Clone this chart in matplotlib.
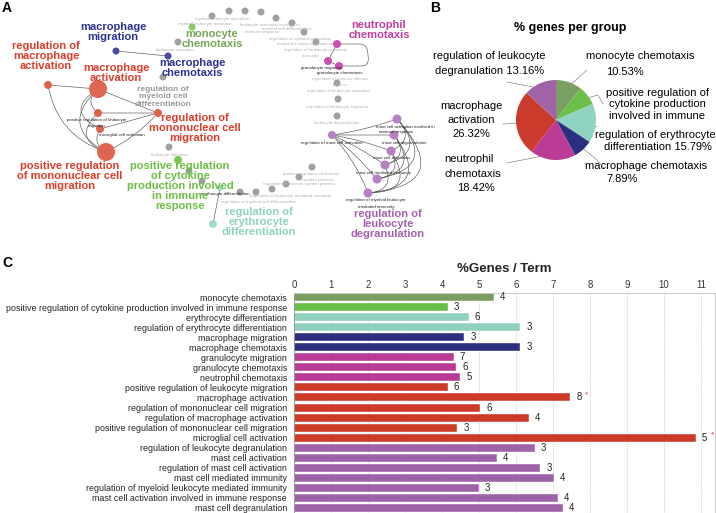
import matplotlib
matplotlib.use("Agg")
import matplotlib.pyplot as plt
from matplotlib import font_manager
from matplotlib.patches import FancyArrowPatch
import numpy as np

# ---------------- data ----------------
# panel B: share of genes per group
pie_groups = ["monocyte chemotaxis", "positive regulation of cytokine production involved in immune",
              "regulation of erythrocyte differentiation", "macrophage chemotaxis",
              "neutrophil chemotaxis", "macrophage activation", "regulation of leukocyte degranulation"]
pie_pct = [10.53, 7.89, 15.79, 7.89, 18.42, 26.32, 13.16]
pie_colors = ["#7b9e63", "#6cc04a", "#8fd4c3", "#2b2f80", "#bb3c97", "#cb3b2b", "#a063a8"]

# panel C: %genes per term
terms = ["monocyte chemotaxis",
         "positive regulation of cytokine production involved in immune response",
         "erythrocyte differentiation", "regulation of erythrocyte differentiation",
         "macrophage migration", "macrophage chemotaxis",
         "granulocyte migration", "granulocyte chemotaxis", "neutrophil chemotaxis",
         "positive regulation of leukocyte migration", "macrophage activation",
         "regulation of mononuclear cell migration", "regulation of macrophage activation",
         "positive regulation of mononuclear cell migration", "microglial cell activation",
         "regulation of leukocyte degranulation", "mast cell activation",
         "regulation of mast cell activation", "mast cell mediated immunity",
         "regulation of myeloid leukocyte mediated immunity",
         "mast cell activation involved in immune response", "mast cell degranulation"]
pct_genes = [5.40, 4.16, 4.73, 6.12, 4.60, 6.12, 4.32, 4.38, 4.50, 4.16, 7.47,
             5.04, 6.34, 4.41, 10.86, 6.51, 5.48, 6.66, 7.02, 5.00, 7.14, 7.26]
n_genes = [4, 3, 6, 3, 3, 3, 7, 6, 5, 6, 8, 6, 4, 3, 5, 3, 4, 3, 4, 3, 4, 4]
signif = [10, 14]
term_group = [0, 1, 2, 2, 3, 3, 4, 4, 4, 5, 5, 5, 5, 5, 5, 6, 6, 6, 6, 6, 6, 6]
bar_colors = ["#7a9e5f", "#67bd45", "#8fd1bf", "#2c2f7e", "#b93b95", "#cc3a28", "#9e62a8"]

# panel A: network (layout positions)
node_x = [116, 168, 48, 98, 98, 100, 158, 106, 192, 178, 213, 220, 337, 328, 339,
          332, 397, 394, 391, 385, 377, 368,
          212, 229, 245, 261, 276, 292, 304, 316, 178, 163, 169, 189, 202, 240, 256,
          272, 286, 299, 312, 337, 338, 337]
node_y = [51, 56, 85, 89, 113, 129, 113, 152, 27, 160, 224, 188, 44, 61, 66,
          135, 119, 135, 151, 165, 179, 193,
          16, 11, 11, 12, 18, 23, 32, 42, 42, 77, 147, 171, 181, 192, 192,
          189, 184, 177, 167, 83, 99, 116]
node_r = [3.5, 3.5, 4, 9, 4, 4, 4, 9, 3.5, 4, 4, 3, 4, 4, 4,
          4, 4.5, 4.5, 4.5, 4.5, 4.5, 4.5] + [3.5] * 22
node_col = ["#4a4aa0", "#4a4aa0", "#e06050", "#e06654", "#e06050", "#e06050", "#e06050",
            "#e06654", "#8cc86a", "#7cc850", "#9fdcc8", "#9fdcc8", "#c94fb0", "#c94fb0",
            "#c94fb0"] + ["#b77fc4"] * 7 + ["#a0a0a0"] * 22

edge_src = [0, 2, 3, 4, 5, 7, 3, 3, 4, 5, 3, 2, 12, 13, 10,
            15, 15, 15, 15, 15, 15, 16, 16, 16, 17, 17, 18, 16, 17, 18, 19]
edge_dst = [1, 3, 6, 6, 6, 6, 4, 7, 7, 7, 5, 7, 13, 14, 11,
            16, 17, 18, 19, 20, 21, 21, 20, 19, 21, 20, 21, 18, 19, 20, 21]
edge_rad = [0, 0, 0, 0, 0, 0.1, 0.6, 0.7, 0.8, 0.5, 0.9, 0.3, 0, 0, 0,
            0.05, 0, -0.05, -0.05, -0.05, -0.1, -1.0, -0.9, -0.8, -0.9, -0.8, -0.9,
            -0.7, -0.7, -0.7, -0.7]

big_labels = [
    ("macrophage\nmigration", 113, 32, "#2e3192"),
    ("regulation of\nmacrophage\nactivation", 46, 56, "#dc3e2c"),
    ("macrophage\nactivation", 116, 73, "#dc3e2c"),
    ("monocyte\nchemotaxis", 212, 39, "#76a654"),
    ("macrophage\nchemotaxis", 192, 68, "#2e3192"),
    ("regulation of\nmononuclear cell\nmigration", 195, 128, "#dc3e2c"),
    ("positive regulation\nof mononuclear cell\nmigration", 70, 176, "#dc3e2c"),
    ("positive regulation\nof cytokine\nproduction involved\nin immune\nresponse", 180, 186, "#6bbf44"),
    ("regulation of\nerythrocyte\ndifferentiation", 259, 222, "#8dd3c0"),
    ("neutrophil\nchemotaxis", 379, 30, "#c23da0"),
    ("regulation of\nleukocyte\ndegranulation", 388, 224, "#a65fb0"),
]

small_labels = [
    (175, 50, "leukocyte activation", 0), (222, 19, "myeloid leukocyte activation", 0),
    (205, 24, "myeloid leukocyte migration", 0), (270, 25, "leukocyte activation involved in", 0),
    (262, 32, "immune response", 0), (287, 29, "myeloid cell differentiation", 0),
    (300, 39, "regulation of cytokine production", 0), (305, 44, "involved in immune response", 0),
    (315, 50, "regulation of leukocyte mediated", 0), (311, 56, "immunity", 0),
    (340, 79, "regulation of immune effector", 0), (340, 85, "process", 0),
    (338, 91, "regulation of leukocyte activation", 0), (337, 107, "regulation of leukocyte migration", 0),
    (337, 123, "leukocyte degranulation", 0), (170, 155, "leukocyte migration", 0),
    (311, 174, "positive regulation of immune", 0), (318, 180, "system process", 0),
    (299, 184, "regulation of immune system process", 0),
    (290, 196, "regulation of leukocyte mediated immunity", 0),
    (258, 202, "regulation of myeloid cell differentiation", 0),
    (97, 120, "positive regulation of leukocyte", 1), (97, 126, "migration", 1),
    (122, 135, "microglial cell activation", 1), (322, 68, "granulocyte migration", 1),
    (340, 73, "granulocyte chemotaxis", 1), (332, 143, "regulation of mast cell activation", 1),
    (405, 127, "mast cell activation involved in", 1), (396, 132, "immune response", 1),
    (404, 143, "mast cell degranulation", 1), (391, 158, "mast cell activation", 1),
    (384, 173, "mast cell mediated immunity", 1), (376, 200, "regulation of myeloid leukocyte", 1),
    (376, 207, "mediated immunity", 1), (225, 194, "erythrocyte differentiation", 1),
]

# pie label lines (x, y, text) and leader line end points
pie_text = [
    (489, 56, "regulation of leukocyte"), (490, 71, "degranulation 13.16%"),
    (640, 56, "monocyte chemotaxis"), (625, 72, "10.53%"),
    (657, 93, "positive regulation of"), (657, 104, "cytokine production"),
    (657, 116, "involved in immune"),
    (655, 135, "regulation of erythrocyte"), (658, 147, "differentiation 15.79%"),
    (646, 166, "macrophage chemotaxis"), (622, 179, "7.89%"),
    (471, 106, "macrophage"), (471, 120, "activation"), (471, 134, "26.32%"),
    (469, 159, "neutrophil"), (473, 174, "chemotaxis"), (476, 188, "18.42%"),
]
leader_end = [(587, 70), (603, 104), (597, 127), (604, 168), (507, 163), (503, 124), (507, 82)]
leader_mid = [None, (598, 95), None, (597, 160), None, None, None]

# ---------------- fonts ----------------
names = {f.name for f in font_manager.fontManager.ttflist}
narrow = "Liberation Sans Narrow" if "Liberation Sans Narrow" in names else None
plt.rcParams["font.family"] = ["Liberation Sans", "DejaVu Sans"]
if narrow:
    nfam, nsize = [narrow, "Liberation Sans"], 7.5
else:
    nfam, nsize = ["Liberation Sans"], 6.4

W, H = 716, 513
fig = plt.figure(figsize=(W / 100, H / 100), dpi=100)

# overlay axes in pixel coordinates (panel A and annotations)
ax = fig.add_axes([0, 0, 1, 1])
ax.set_xlim(0, W)
ax.set_ylim(H, 0)
ax.axis("off")

for s, d, r in zip(edge_src, edge_dst, edge_rad):
    p = FancyArrowPatch((node_x[s], node_y[s]), (node_x[d], node_y[d]),
                        connectionstyle=f"arc3,rad={r}", arrowstyle="-",
                        lw=0.45, color="#555555", shrinkA=0, shrinkB=0, zorder=1)
    ax.add_patch(p)
# loop of the neutrophil cluster
ax.add_patch(FancyArrowPatch((node_x[12], node_y[12]), (node_x[14], node_y[14]),
                             connectionstyle="arc,angleA=0,angleB=0,armA=30,armB=30,rad=8",
                             arrowstyle="-", lw=0.45, color="#555555", shrinkA=0, shrinkB=0, zorder=1))

sizes = [(1.44 * r) ** 2 for r in node_r]
ax.scatter(node_x, node_y, s=sizes, c=node_col, linewidths=0, zorder=2)

for x, y, t, dark in small_labels:
    ax.text(x, y, t, fontsize=3.2, ha="center", va="center",
            color="#222222" if dark else "#b0b0b0", zorder=3)

ax.text(163, 97, "regulation of\nmyeloid cell\ndifferentiation", fontsize=6, weight="bold",
        color="#9a9a9a", ha="center", va="center", linespacing=1.15, zorder=3)

for t, x, y, c in big_labels:
    ax.text(x, y, t, fontsize=8, weight="bold", color=c, ha="center", va="center",
            linespacing=1.0, zorder=4)

# panel letters
for letter, x, y in [("A", 7, 8), ("B", 435, 8), ("C", 7, 263)]:
    ax.text(x, y, letter, fontsize=10, weight="bold", ha="center", va="center")

# ---------------- panel B: pie ----------------
cx, cy, R = 556, 120, 40
axp = fig.add_axes([(cx - R) / W, 1 - (cy + R) / H, 2 * R / W, 2 * R / H])
wedges, _ = axp.pie(pie_pct, colors=pie_colors, startangle=90, counterclock=False,
                    wedgeprops=dict(linewidth=0))
axp.set_xlim(-1, 1)
axp.set_ylim(-1, 1)

ax.text(570, 28, "% genes per group", fontsize=9, weight="bold", ha="center", va="center")
for x, y, t in pie_text:
    ax.text(x, y, t, fontsize=8, ha="center", va="center")

ang = 90 - np.cumsum([0] + pie_pct[:-1]) * 3.6 - np.array(pie_pct) * 1.8
for a, end, mid in zip(ang, leader_end, leader_mid):
    sx = cx + 0.85 * R * np.cos(np.radians(a))
    sy = cy - 0.85 * R * np.sin(np.radians(a))
    xs, ys = [sx], [sy]
    if mid:
        xs.append(mid[0]); ys.append(mid[1])
    xs.append(end[0]); ys.append(end[1])
    ax.plot(xs, ys, color="#888888", lw=0.5, zorder=5)

# ---------------- panel C: bars ----------------
left, right, top, bottom = 294, 715, 293, 513
axc = fig.add_axes([left / W, 1 - bottom / H, (right - left) / W, (bottom - top) / H])
ypos = np.arange(len(terms))
colors = [bar_colors[g] for g in term_group]
axc.barh(ypos, pct_genes, height=0.8, color=colors, edgecolor="white", linewidth=0.3, zorder=2)
axc.set_ylim(len(terms) - 0.47, -0.43)
axc.set_xlim(0, 11.38)
axc.set_xticks(range(12))
axc.xaxis.tick_top()
axc.tick_params(axis="x", length=0, pad=2, labelsize=nsize + 0.5, labelcolor="#333333")
axc.tick_params(axis="y", length=0, pad=5)
axc.set_yticks(ypos)
axc.set_yticklabels(terms, fontsize=nsize, family=nfam, color="#222222")
for lab in axc.get_xticklabels():
    lab.set_family(nfam)
axc.grid(axis="x", ls=(0, (1, 1.5)), color="#bbbbbb", lw=0.6, zorder=0)
for side, col in [("left", "#999999"), ("top", "#cccccc"), ("right", "#cccccc"), ("bottom", "#cccccc")]:
    axc.spines[side].set_color(col)
    axc.spines[side].set_linewidth(0.7)

for i, (v, n) in enumerate(zip(pct_genes, n_genes)):
    axc.annotate(str(n), (v, i), xytext=(6, 0), textcoords="offset pixels",
                 ha="left", va="center", fontsize=nsize + 0.5, family=nfam, color="#222222")
    if i in signif:
        axc.annotate("*", (v, i), xytext=(15, 3), textcoords="offset pixels",
                     ha="left", va="center", fontsize=6, color="#e02020")

fig.text((left + right) / 2 / W, 1 - 269 / H, "%Genes / Term", fontsize=9.5, weight="bold",
         family=nfam, ha="center", va="center", color="#222222")

fig.savefig("out.png", dpi=100)
